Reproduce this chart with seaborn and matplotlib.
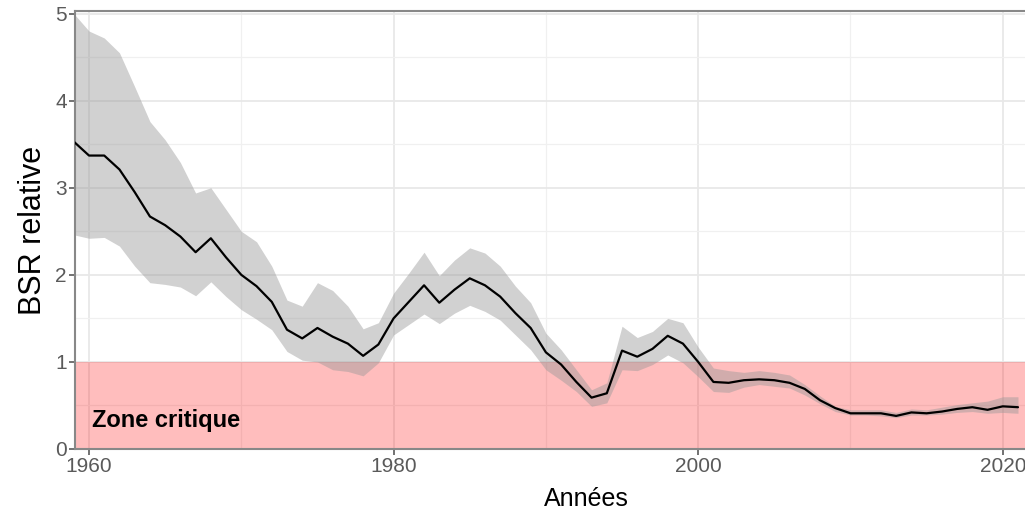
import numpy as np
import pandas as pd
import matplotlib
matplotlib.use("Agg")
import matplotlib.pyplot as plt
import seaborn as sns
from matplotlib.ticker import MultipleLocator

# Relative spawning stock biomass (BSR) with its uncertainty band
years = list(range(1959, 2022))
bsr = [3.53, 3.37, 3.37, 3.21, 2.95, 2.67, 2.57, 2.44, 2.26, 2.42,
       2.20, 2.00, 1.87, 1.69, 1.37, 1.27, 1.39, 1.29, 1.21, 1.07,
       1.20, 1.50, 1.69, 1.88, 1.68, 1.83, 1.96, 1.88, 1.75, 1.56,
       1.39, 1.11, 0.97, 0.77, 0.59, 0.64, 1.13, 1.06, 1.15, 1.30,
       1.21, 1.00, 0.77, 0.76, 0.79, 0.80, 0.79, 0.76, 0.69, 0.56,
       0.47, 0.41, 0.41, 0.41, 0.38, 0.42, 0.41, 0.43, 0.46, 0.48,
       0.45, 0.49, 0.48]
bsr_high = [5.00, 4.80, 4.72, 4.55, 4.16, 3.76, 3.55, 3.29, 2.94, 3.00,
            2.75, 2.50, 2.38, 2.10, 1.71, 1.64, 1.91, 1.82, 1.64, 1.38,
            1.45, 1.79, 2.02, 2.26, 1.99, 2.17, 2.31, 2.25, 2.10, 1.87,
            1.68, 1.33, 1.14, 0.91, 0.68, 0.76, 1.41, 1.28, 1.35, 1.50,
            1.45, 1.17, 0.93, 0.90, 0.88, 0.90, 0.88, 0.85, 0.74, 0.61,
            0.49, 0.45, 0.45, 0.45, 0.42, 0.46, 0.45, 0.48, 0.51, 0.53,
            0.55, 0.60, 0.60]
bsr_low = [2.46, 2.42, 2.43, 2.33, 2.10, 1.91, 1.89, 1.86, 1.76, 1.92,
           1.75, 1.60, 1.49, 1.37, 1.12, 1.02, 1.00, 0.91, 0.89, 0.84,
           0.99, 1.31, 1.43, 1.55, 1.44, 1.56, 1.65, 1.58, 1.48, 1.31,
           1.14, 0.91, 0.79, 0.66, 0.49, 0.53, 0.91, 0.90, 0.97, 1.08,
           0.99, 0.83, 0.66, 0.65, 0.71, 0.74, 0.72, 0.70, 0.62, 0.52,
           0.43, 0.39, 0.39, 0.38, 0.36, 0.39, 0.39, 0.40, 0.42, 0.43,
           0.41, 0.42, 0.41]

critical_level = 1.0

df = pd.DataFrame({"Annee": years, "BSR": bsr, "bas": bsr_low, "haut": bsr_high})

sns.set_style("white")
plt.rcParams["font.family"] = ["Liberation Sans", "DejaVu Sans"]

fig = plt.figure(figsize=(10.25, 5.14), dpi=100)
ax = fig.add_axes([75 / 1025, 65 / 514, 950 / 1025, 438 / 514])

# Grid (ggplot theme_bw look)
ax.xaxis.set_major_locator(MultipleLocator(20))
ax.xaxis.set_minor_locator(MultipleLocator(10))
ax.yaxis.set_major_locator(MultipleLocator(1))
ax.yaxis.set_minor_locator(MultipleLocator(0.5))
ax.grid(which="major", color="#e8e8e8", linewidth=1.3, zorder=0)
ax.grid(which="minor", color="#f0f0f0", linewidth=0.9, zorder=0)
ax.set_axisbelow(True)

# Uncertainty band and critical zone
ax.fill_between(df["Annee"], df["bas"], df["haut"], color="#999999",
                alpha=0.45, linewidth=0, zorder=2)
ax.axhspan(0, critical_level, color="#ff0000", alpha=0.26, linewidth=0, zorder=1)

sns.lineplot(data=df, x="Annee", y="BSR", color="black", linewidth=1.6,
             ax=ax, zorder=3)

ax.text(1960.2, 0.33, "Zone critique", fontsize=17, fontweight="bold",
        color="black", va="center", ha="left", zorder=4)

ax.set_xlim(1959.08, 2021.46)
ax.set_ylim(0, 5.03)

# the original panel runs past the right edge, so the x title sits right of centre
ax.set_xlabel("Années", fontsize=18, color="black")
ax.xaxis.set_label_coords(0.538, -0.087)
ax.set_ylabel("BSR relative", fontsize=22, color="black", labelpad=5)

ax.tick_params(axis="both", which="major", labelsize=15, labelcolor="#5a5a5a",
               color="#5a5a5a", length=4, width=1.2, pad=2,
               bottom=True, left=True)
ax.tick_params(axis="both", which="minor", length=0)

for side in ["left", "bottom", "top"]:
    ax.spines[side].set_color("#888888")
    ax.spines[side].set_linewidth(1.5)
ax.spines["right"].set_visible(False)

fig.savefig("out.png", dpi=100)
